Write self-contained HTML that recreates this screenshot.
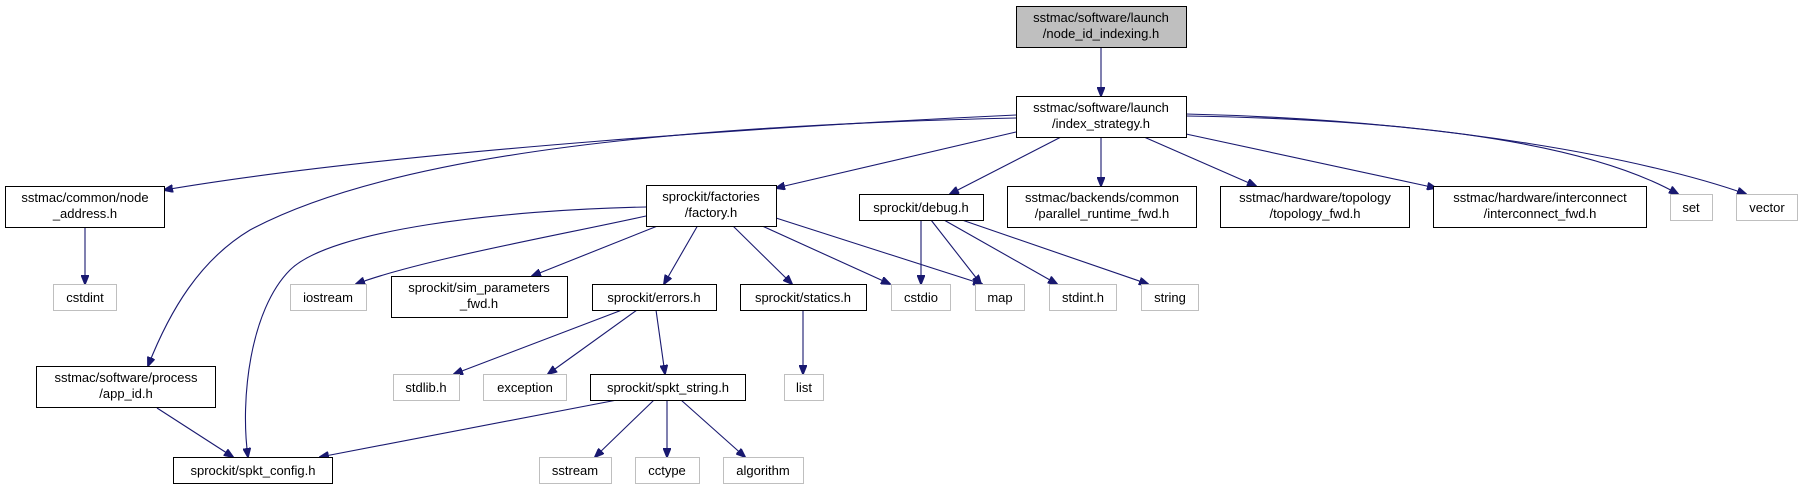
<!DOCTYPE html>
<html><head><meta charset="utf-8"><style>
html,body{margin:0;padding:0;background:#fff;}
svg{display:block;}
text{font-family:"Liberation Sans",Arial,sans-serif;font-size:13px;fill:#000;text-anchor:middle;}
.b{fill:#fff;stroke:#000;stroke-width:1;}
.g{fill:#fff;stroke:#bfbfbf;stroke-width:1;}
.e{fill:none;stroke:#191970;stroke-width:1.1;marker-end:url(#a);}
</style></head><body>
<svg width="1799" height="484" viewBox="0 0 1799 484" xmlns="http://www.w3.org/2000/svg">
<defs><marker id="a" markerWidth="10" markerHeight="8" refX="9" refY="4" orient="auto" markerUnits="userSpaceOnUse"><path d="M0,0 L10,4 L0,8 z" fill="#191970" stroke="#191970"/></marker></defs>

<!-- edges -->
<path class="e" d="M1101,47 L1101,96"/>
<path class="e" d="M1016,115 C800,125 400,150 164,190"/>
<path class="e" d="M1016,118 C700,125 400,150 250,230 C200,260 170,310 148,366"/>
<path class="e" d="M1016,132 L776,188"/>
<path class="e" d="M1061,137 L950,194"/>
<path class="e" d="M1101,137 L1101,186"/>
<path class="e" d="M1144,137 L1256,186"/>
<path class="e" d="M1186,134 L1436,188"/>
<path class="e" d="M1186,116 C1450,120 1600,150 1678,194"/>
<path class="e" d="M1186,114 C1450,120 1650,160 1746,194"/>
<path class="e" d="M646,207 C500,210 330,230 290,270 C250,310 240,400 248,457"/>
<path class="e" d="M646,216 C560,235 420,260 356,284"/>
<path class="e" d="M660,225 L532,276"/>
<path class="e" d="M698,225 L664,284"/>
<path class="e" d="M732,225 L792,284"/>
<path class="e" d="M760,225 L890,284"/>
<path class="e" d="M776,218 L982,284"/>
<path class="e" d="M921,220 L921,284"/>
<path class="e" d="M931,220 L981,284"/>
<path class="e" d="M944,220 L1057,284"/>
<path class="e" d="M962,220 L1148,284"/>
<path class="e" d="M622,310 L454,374"/>
<path class="e" d="M637,310 L548,374"/>
<path class="e" d="M656,310 L665,374"/>
<path class="e" d="M803,310 L803,374"/>
<path class="e" d="M617,400 L320,457"/>
<path class="e" d="M654,400 L595,457"/>
<path class="e" d="M667,400 L667,457"/>
<path class="e" d="M681,400 L745,457"/>
<path class="e" d="M157,408 L233,457"/>
<path class="e" d="M85,227 L85,284"/>

<!-- nodes -->
<rect x="1016.5" y="6.5" width="170" height="41" fill="#bfbfbf" stroke="#000"/>
<text x="1101" y="22">sstmac/software/launch</text><text x="1101" y="38">/node_id_indexing.h</text>

<rect class="b" x="1016.5" y="96.5" width="170" height="41"/>
<text x="1101" y="112">sstmac/software/launch</text><text x="1101" y="128">/index_strategy.h</text>

<rect class="b" x="5.5" y="186.5" width="159" height="41"/>
<text x="85" y="202">sstmac/common/node</text><text x="85" y="218">_address.h</text>

<rect class="b" x="646.5" y="185.5" width="130" height="41"/>
<text x="711" y="201">sprockit/factories</text><text x="711" y="217">/factory.h</text>

<rect class="b" x="859.5" y="194.5" width="124" height="26"/>
<text x="921" y="212">sprockit/debug.h</text>

<rect class="b" x="1007.5" y="186.5" width="189" height="41"/>
<text x="1102" y="202">sstmac/backends/common</text><text x="1102" y="218">/parallel_runtime_fwd.h</text>

<rect class="b" x="1220.5" y="186.5" width="189" height="41"/>
<text x="1315" y="202">sstmac/hardware/topology</text><text x="1315" y="218">/topology_fwd.h</text>

<rect class="b" x="1433.5" y="186.5" width="213" height="41"/>
<text x="1540" y="202">sstmac/hardware/interconnect</text><text x="1540" y="218">/interconnect_fwd.h</text>

<rect class="g" x="1670.5" y="194.5" width="42" height="26"/><text x="1691" y="212">set</text>
<rect class="g" x="1736.5" y="194.5" width="61" height="26"/><text x="1767" y="212">vector</text>

<rect class="g" x="53.5" y="284.5" width="63" height="26"/><text x="85" y="302">cstdint</text>
<rect class="g" x="290.5" y="284.5" width="76" height="26"/><text x="328" y="302">iostream</text>
<rect class="b" x="391.5" y="276.5" width="176" height="41"/>
<text x="479" y="292">sprockit/sim_parameters</text><text x="479" y="308">_fwd.h</text>
<rect class="b" x="592.5" y="284.5" width="124" height="26"/><text x="654" y="302">sprockit/errors.h</text>
<rect class="b" x="740.5" y="284.5" width="126" height="26"/><text x="803" y="302">sprockit/statics.h</text>
<rect class="g" x="891.5" y="284.5" width="59" height="26"/><text x="921" y="302">cstdio</text>
<rect class="g" x="975.5" y="284.5" width="49" height="26"/><text x="1000" y="302">map</text>
<rect class="g" x="1049.5" y="284.5" width="67" height="26"/><text x="1083" y="302">stdint.h</text>
<rect class="g" x="1141.5" y="284.5" width="57" height="26"/><text x="1170" y="302">string</text>

<rect class="b" x="36.5" y="366.5" width="179" height="41"/>
<text x="126" y="382">sstmac/software/process</text><text x="126" y="398">/app_id.h</text>
<rect class="g" x="393.5" y="374.5" width="66" height="26"/><text x="426" y="392">stdlib.h</text>
<rect class="g" x="483.5" y="374.5" width="83" height="26"/><text x="525" y="392">exception</text>
<rect class="b" x="590.5" y="374.5" width="155" height="26"/><text x="668" y="392">sprockit/spkt_string.h</text>
<rect class="g" x="784.5" y="374.5" width="39" height="26"/><text x="804" y="392">list</text>

<rect class="b" x="173.5" y="457.5" width="159" height="26"/><text x="253" y="475">sprockit/spkt_config.h</text>
<rect class="g" x="539.5" y="457.5" width="72" height="26"/><text x="575" y="475">sstream</text>
<rect class="g" x="635.5" y="457.5" width="64" height="26"/><text x="667" y="475">cctype</text>
<rect class="g" x="723.5" y="457.5" width="80" height="26"/><text x="763" y="475">algorithm</text>
</svg>
</body></html>
